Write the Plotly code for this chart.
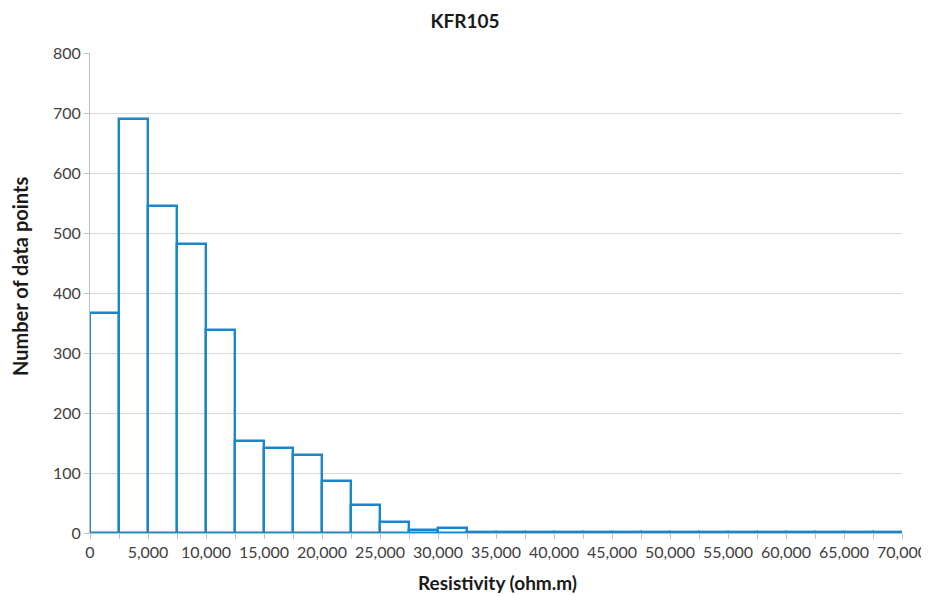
import plotly.graph_objects as go

bin_width = 2500
bin_starts = list(range(0, 70000, bin_width))
counts = [367, 690, 545, 482, 338, 153, 142, 130, 86, 46, 19, 5, 8,
          1, 1, 1, 1, 1, 1, 1, 1, 1, 1, 1, 1, 1, 1, 1]
x_tick_vals = list(range(0, 70001, 5000))
x_tick_text = [f"{v:,}" for v in x_tick_vals]
y_tick_vals = list(range(0, 801, 100))

bin_centers = [s + bin_width / 2 for s in bin_starts]

font_family = "Lato, 'Open Sans', sans-serif"
blue = "#1b87c9"

# page body has an ~8px default margin, so the figure is sized/offset to compensate
W, H = 921, 588
L, R, T, B = 82, 27, 45, 63
plot_w = W - L - R
plot_h = H - T - B

fig = go.Figure()
fig.add_trace(go.Bar(
    x=bin_centers, y=counts, width=bin_width,
    marker=dict(color="rgba(0,0,0,0)", line=dict(color=blue, width=2.4)),
    showlegend=False,
))

fig.update_layout(
    width=W, height=H,
    margin=dict(l=L, r=R, t=T, b=B, autoexpand=False),
    paper_bgcolor="white", plot_bgcolor="white",
    title=dict(text="<b>KFR105</b>", x=(465 - 8) / W, xanchor="center", y=1 - 13 / H, yanchor="middle",
               font=dict(family=font_family, size=19, color="#1a1a1a")),
    bargap=0,
    font=dict(family=font_family, color="#404040"),
    annotations=[
        dict(text="<b>Resistivity (ohm.m)</b>", xref="paper", yref="paper",
             x=(497 - 90) / plot_w, y=-49 / plot_h, xanchor="center", yanchor="middle", showarrow=False,
             font=dict(family=font_family, size=19, color="#1a1a1a")),
        dict(text="<b>Number of data points</b>", xref="paper", yref="paper",
             x=-70 / plot_w, y=(533 - 277) / plot_h, xanchor="center", yanchor="middle", showarrow=False,
             textangle=-90,
             font=dict(family=font_family, size=20, color="#1a1a1a")),
    ],
)
fig.update_xaxes(
    range=[0, 70000], tickvals=x_tick_vals, ticktext=x_tick_text,
    showgrid=False, showline=True, linecolor="#bfbfbf", linewidth=1,
    ticks="outside", ticklen=5, tickcolor="#bfbfbf",
    minor=dict(tick0=0, dtick=bin_width, ticks="outside", ticklen=5, tickcolor="#bfbfbf", showgrid=False),
    tickfont=dict(size=16, color="#404040"),
    automargin=False, zeroline=False,
)
fig.update_yaxes(
    range=[0, 800], tickvals=y_tick_vals,
    showgrid=True, gridcolor="#d9d9d9", gridwidth=1,
    showline=True, linecolor="#bfbfbf", linewidth=1,
    ticks="outside", ticklen=5, tickcolor="#bfbfbf",
    tickfont=dict(size=16, color="#404040"),
    automargin=False, zeroline=False,
)

fig.write_html("out.html")
